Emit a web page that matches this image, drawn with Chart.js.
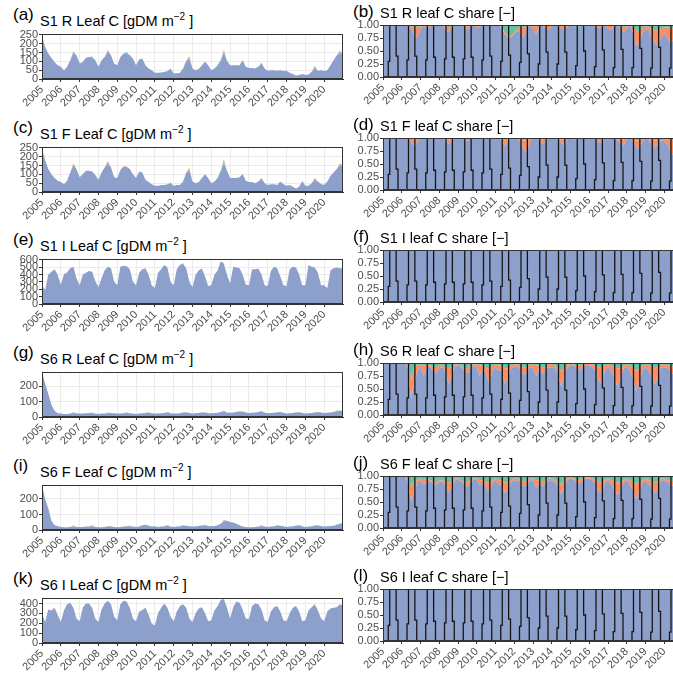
<!DOCTYPE html>
<html>
<head>
<meta charset="utf-8">
<script src="https://cdn.jsdelivr.net/npm/chart.js@4.4.1/dist/chart.umd.min.js"></script>
<style>
html, body { margin: 0; padding: 0; background: #fff; }
#fig { position: relative; width: 673px; height: 678px; overflow: hidden; font-family: "Liberation Sans", Arial, sans-serif; }
.ttl { position: absolute; font-size: 14.5px; color: #000; white-space: nowrap; line-height: 17px; }
.ttl .lab { position: absolute; font-size: 17px; }
.ttl sup { font-size: 10px; }
canvas { position: absolute; }
</style>
</head>
<body>
<div id="fig"></div>
<script>
// time axis: 6 samples per year, 2005.0 .. 2021.0
const startYear = 2005;
const perYear = 6;
const yearTicks = [2005, 2006, 2007, 2008, 2009, 2010, 2011, 2012, 2013, 2014, 2015, 2016, 2017, 2018, 2019, 2020];

// ---- leaf C [gDM m-2], blue / orange / green stacked
const aBlue = [246,181,144,121,97,78, 69,50,69,106,144,134, 88,97,121,125,121,106, 69,106,125,153,134,88,
  78,125,144,144,134,116, 78,110,116,78,60,50, 35,35,37,39,45,56, 32,32,35,60,103,110,
  60,50,56,78,97,78, 50,60,78,106,147,103, 78,78,78,78,106,69, 63,63,60,69,88,60,
  47,50,50,47,50,45, 47,35,28,20,22,28, 22,26,41,60,47,50, 45,50,78,106,134,144, 140];
const aOrange = [0,0,0,0,0,0, 0,0,0,0,8,0, 0,0,0,0,4,0, 0,0,0,8,0,0, 0,0,0,4,0,0, 0,0,0,0,0,0,
  0,0,0,0,0,0, 0,0,0,0,0,10, 0,0,0,0,3,0, 0,0,0,0,10,0, 0,0,0,0,0,0, 0,0,0,0,0,0,
  0,0,0,0,0,0, 0,0,0,0,0,0, 0,0,0,6,0,0, 0,0,0,0,0,8, 0];
const aGreen = [0,0,0,0,0,0, 0,0,0,0,5,0, 0,0,0,0,2,0, 0,0,0,5,0,0, 0,0,0,5,0,0, 0,0,0,0,0,0,
  0,0,0,0,0,4, 0,0,0,0,0,9, 0,0,0,0,0,0, 0,0,0,0,9,0, 0,0,0,0,0,0, 0,0,0,0,4,0,
  0,0,0,0,0,0, 0,0,0,0,0,0, 0,0,0,7,0,0, 0,0,0,0,0,8, 0];

const cBlue = [246,180,130,100,80,64, 56,44,64,110,150,130, 84,100,120,120,116,96, 70,110,140,160,140,84,
  80,124,144,140,130,100, 80,116,110,70,56,44, 36,36,40,40,44,50, 36,40,40,60,110,120,
  60,50,56,80,100,80, 50,60,80,120,160,120, 80,80,80,84,100,64, 56,56,50,60,76,50,
  40,44,44,40,60,44, 36,40,30,20,30,60, 36,36,50,70,60,46, 40,60,90,110,130,150, 150];
const cOrange = [0,0,0,0,0,0, 0,0,0,0,6,0, 0,0,0,0,0,0, 0,0,0,8,0,0, 0,0,0,5,0,0, 0,0,0,0,0,0,
  0,0,0,0,0,0, 0,0,0,0,0,8, 0,0,0,0,0,0, 0,0,0,0,12,0, 0,0,0,0,0,0, 0,0,0,0,4,0,
  0,0,0,0,0,0, 0,0,0,0,0,0, 0,0,0,6,0,0, 0,0,0,0,0,6, 0];
const cGreen = [0,0,0,0,0,0, 0,0,0,0,5,0, 0,0,0,0,0,0, 0,0,0,6,0,0, 0,0,0,0,0,0, 0,0,0,0,0,0,
  0,0,0,0,0,4, 0,0,0,0,0,8, 0,0,0,0,0,0, 0,0,0,0,12,0, 0,0,0,0,4,0, 0,0,0,0,0,0,
  0,0,0,0,0,0, 0,0,0,0,0,4, 0,0,0,4,0,0, 0,0,0,0,0,6, 0];

const eBlue = [254,182,398,437,470,398, 254,408,422,485,504,350, 254,398,422,446,437,312, 230,350,456,504,485,302,
  254,504,518,504,470,302, 254,422,470,485,398,254, 216,422,470,528,494,302, 254,470,533,542,485,302,
  230,398,456,480,374,245, 254,398,446,580,542,398, 278,504,494,485,398,264, 254,470,470,480,398,254,
  245,446,504,485,374,254, 245,470,504,494,398,254, 254,528,504,494,422,254, 254,206,456,485,494,485, 480];
const eOrange = [0,0,0,0,0,0, 0,0,10,0,0,0, 0,0,0,0,0,0, 0,0,0,0,0,0, 0,0,0,10,0,0, 0,0,0,0,0,0,
  0,0,0,0,0,0, 0,0,0,0,0,0, 0,0,0,0,0,0, 0,0,10,0,0,0, 0,0,0,0,0,0, 0,0,0,0,10,0,
  0,0,0,0,0,0, 0,0,0,0,10,0, 0,0,0,0,0,0, 0,15,0,0,0,0, 0];
const eGreen = [0,10,0,0,0,0, 10,0,0,0,0,0, 0,0,0,0,0,0, 0,0,0,0,0,0, 0,0,0,0,0,0, 0,0,0,0,0,0,
  0,0,0,0,0,0, 0,0,0,10,0,0, 0,0,0,0,0,0, 0,0,0,0,10,0, 0,0,0,0,0,0, 0,0,0,0,0,0,
  0,0,0,0,0,0, 0,0,0,0,0,0, 0,0,0,0,0,0, 0,0,0,0,0,0, 0];

const gBlue = [290,220,150,80,40,25, 22,20,20,22,25,24, 22,22,24,26,25,22, 20,22,22,24,26,24,
  22,22,24,26,25,22, 20,22,24,26,28,25, 22,22,24,26,28,25, 22,22,24,28,30,26,
  22,24,26,28,30,25, 24,26,28,32,35,30, 28,30,32,34,35,30, 26,28,30,32,34,30,
  24,26,28,30,32,28, 22,24,26,28,30,26, 22,24,26,28,32,30, 26,28,30,32,36,40, 42];
const gOrange = [0,0,0,0,0,0, 0,0,0,0,3,0, 0,0,0,0,0,0, 0,0,0,3,0,0, 0,0,0,0,0,0, 0,0,0,0,3,0,
  0,0,0,0,0,0, 0,0,0,3,0,0, 0,0,0,0,0,0, 0,0,0,0,3,0, 0,0,0,0,0,0, 0,0,0,0,3,0,
  0,0,0,0,0,0, 0,0,0,3,0,0, 0,0,0,0,0,0, 0,0,0,0,3,0, 0];
const gGreen = [0,0,0,0,0,0, 0,0,0,0,3,0, 0,0,0,0,4,0, 0,0,0,3,0,0, 0,0,0,3,0,0, 0,0,0,0,0,0,
  0,0,0,0,4,0, 0,0,0,0,3,0, 0,0,0,3,0,0, 0,0,0,0,4,0, 0,0,0,4,0,0, 0,0,0,0,3,0,
  0,0,0,3,0,0, 0,0,0,0,4,0, 0,0,0,3,0,0, 0,0,0,0,3,0, 0];

const iBlue = [290,200,140,60,30,25, 20,18,18,20,22,20, 20,20,22,22,24,20, 18,18,20,22,24,20,
  18,20,22,22,24,22, 20,22,30,34,26,22, 24,20,22,24,26,22, 20,22,24,26,28,24,
  22,24,26,28,30,26, 24,26,30,40,55,60, 52,48,40,30,22,20, 18,18,20,22,24,22,
  20,22,24,26,28,24, 20,22,24,26,28,24, 20,22,24,26,28,26, 22,24,26,28,32,40, 45];
const iOrange = [0,0,0,0,0,0, 0,0,0,0,3,0, 0,0,0,0,3,0, 0,0,0,0,0,0, 0,0,0,3,0,0, 0,0,0,0,0,0,
  0,0,0,0,3,0, 0,0,0,0,0,0, 0,0,0,3,0,0, 0,0,0,0,4,0, 0,0,0,0,0,0, 0,0,0,0,3,0,
  0,0,0,0,0,0, 0,0,0,3,0,0, 0,0,0,0,3,0, 0,0,0,0,0,0, 0];
const iGreen = [0,0,0,0,0,0, 0,0,0,0,4,0, 0,0,0,0,3,0, 0,0,0,4,0,0, 0,0,0,0,4,0, 0,0,0,0,3,0,
  0,0,0,0,4,0, 0,0,0,4,0,0, 0,0,0,0,4,0, 0,0,0,0,5,0, 0,0,0,0,0,0, 0,0,0,0,4,0,
  0,0,0,4,0,0, 0,0,0,0,4,0, 0,0,0,4,0,0, 0,0,0,0,3,0, 0];

const kBlue = [303,214,340,330,350,286, 214,330,393,410,357,250, 221,357,400,400,357,250, 214,340,400,428,393,268,
  232,393,428,421,357,250, 221,321,330,357,286,196, 178,303,357,400,357,268, 221,321,375,393,357,250,
  214,303,350,364,303,221, 232,330,375,436,446,357, 250,364,421,410,340,250, 243,375,400,393,340,232,
  214,321,364,375,321,232, 221,303,357,375,321,221, 232,330,364,393,330,250, 221,321,350,357,364,393, 380];
const kOrange = [0,0,0,0,10,0, 0,0,0,0,0,0, 0,0,0,0,0,0, 0,0,0,0,0,0, 0,0,0,0,0,0, 0,0,8,0,0,0,
  0,0,0,0,0,0, 0,0,0,0,0,0, 0,0,0,0,0,0, 0,0,0,0,0,0, 0,0,0,0,0,0, 0,0,0,0,0,0,
  0,0,0,0,0,0, 0,0,0,0,0,0, 0,0,0,0,0,0, 0,0,0,0,0,0, 0];
const kGreen = new Array(97).fill(0);

// ---- leaf C share [-]: orange and green fractions (blue = rest)
const bOrange = [0,0,0,0,0,0, 0,0,0,0.05,0.15,0.2, 0.05,0,0.06,0.03,0,0, 0,0,0.06,0.08,0.02,0, 0,0,0.02,0.05,0.03,0,
  0.03,0.02,0,0,0,0, 0,0,0.02,0.03,0.05,0.04, 0.03,0.02,0.1,0.2,0.05,0, 0.05,0.15,0.03,0,0.05,0.08,
  0.02,0,0,0.04,0.08,0.02, 0,0,0,0,0,0, 0,0,0.02,0.03,0.04,0, 0.05,0.08,0.02,0,0.05,0.08,
  0.05,0,0.1,0.3,0.25,0.1, 0.05,0.05,0.15,0.25,0.3,0.15, 0.1,0.2,0.3,0.2,0.1,0.1, 0.1];
const bGreen = [0,0,0,0,0,0, 0,0,0,0.03,0.05,0.04, 0.02,0,0.02,0,0,0, 0,0,0.04,0.06,0.02,0, 0,0,0.02,0.03,0.02,0,
  0.02,0.01,0,0,0,0, 0,0,0.05,0.15,0.2,0.2, 0.15,0.08,0.05,0.05,0.02,0, 0.02,0.03,0.01,0,0.02,0.02,
  0,0,0,0.02,0.03,0.01, 0,0.02,0.06,0.03,0,0, 0,0,0.02,0.02,0.02,0, 0.02,0.02,0,0,0.03,0.05,
  0.03,0,0.05,0.1,0.12,0.05, 0.02,0.05,0.08,0.1,0.1,0.08, 0.05,0.05,0.05,0.08,0.06,0.05, 0.05];

const dOrange = [0,0,0,0,0,0, 0,0,0,0.05,0.12,0.05, 0,0,0.03,0,0,0, 0,0,0.04,0.08,0.03,0, 0,0,0.02,0.04,0,0,
  0.02,0,0,0,0,0, 0,0,0.03,0.1,0.05,0, 0,0,0.05,0.15,0.25,0.05, 0,0,0.03,0.08,0.05,0,
  0,0,0.03,0.06,0.1,0.02, 0,0,0,0,0,0, 0,0,0.02,0.05,0.08,0, 0.03,0,0,0.03,0.06,0.1,
  0.03,0,0.05,0.12,0.15,0.05, 0,0.02,0.08,0.12,0.08,0.03, 0.03,0.1,0.2,0.3,0.15,0.1, 0.1];
const dGreen = [0,0,0,0,0,0, 0,0,0,0.02,0.03,0.02, 0,0,0,0,0,0, 0,0,0.02,0.03,0.02,0, 0,0,0.02,0.02,0,0,
  0,0,0,0,0,0, 0,0,0.03,0.05,0.03,0, 0,0,0.02,0.05,0.05,0.02, 0,0,0.02,0.03,0.02,0,
  0,0,0.02,0.03,0.04,0, 0,0.02,0.03,0.02,0,0, 0,0,0,0.02,0.02,0, 0,0,0,0.02,0.03,0.03,
  0,0,0.02,0.05,0.05,0.02, 0,0.02,0.04,0.05,0.04,0.02, 0.02,0.03,0.05,0.05,0.03,0.02, 0.03];

const fOrange = new Array(97).fill(0);
const fGreen = new Array(97).fill(0);

const hOrange = [0,0,0,0,0,0, 0,0,0.05,0.4,0.3,0.1, 0.05,0.2,0.05,0.02,0.05,0.1, 0.05,0.03,0.1,0.3,0.15,0.05,
  0.02,0.02,0.05,0.1,0.05,0.03, 0.05,0.2,0.05,0.1,0.3,0.1, 0.05,0.1,0.1,0.3,0.2,0.05, 0.05,0.03,0.08,0.15,0.1,0.05,
  0.05,0.2,0.05,0.1,0.05,0.05, 0.05,0.03,0.1,0.3,0.15,0.05, 0.02,0.02,0.05,0.1,0.05,0.02, 0.03,0.05,0.1,0.25,0.3,0.1,
  0.05,0.1,0.2,0.35,0.2,0.05, 0.05,0.1,0.2,0.4,0.25,0.1, 0.05,0.1,0.15,0.3,0.2,0.05, 0.05,0.05,0.1,0.15,0.1,0.05, 0.05];
const hGreen = [0,0,0,0,0,0, 0,0,0.05,0.3,0.08,0.05, 0.03,0.05,0.03,0.05,0.08,0.1, 0.05,0.05,0.08,0.1,0.08,0.03,
  0.03,0.05,0.1,0.1,0.05,0.03, 0.03,0.05,0.05,0.1,0.1,0.05, 0.03,0.05,0.05,0.1,0.1,0.05, 0.03,0.03,0.05,0.08,0.08,0.03,
  0.03,0.05,0.05,0.1,0.08,0.03, 0.03,0.05,0.1,0.15,0.1,0.03, 0.02,0.03,0.05,0.05,0.03,0.02, 0.02,0.03,0.05,0.08,0.1,0.05,
  0.03,0.05,0.08,0.1,0.1,0.05, 0.03,0.05,0.1,0.15,0.1,0.05, 0.03,0.05,0.08,0.1,0.08,0.03, 0.03,0.05,0.05,0.08,0.05,0.03, 0.03];

const jOrange = [0,0,0,0,0,0, 0,0,0.05,0.3,0.2,0.05, 0.03,0.1,0.05,0.02,0.05,0.05, 0.03,0.03,0.08,0.2,0.1,0.03,
  0.02,0.02,0.05,0.08,0.05,0.02, 0.03,0.1,0.05,0.08,0.2,0.05, 0.03,0.08,0.1,0.2,0.15,0.03, 0.03,0.03,0.05,0.1,0.08,0.03,
  0.03,0.15,0.05,0.08,0.05,0.03, 0.03,0.03,0.08,0.2,0.1,0.03, 0.02,0.02,0.03,0.08,0.03,0.02, 0.02,0.03,0.08,0.2,0.2,0.05,
  0.03,0.08,0.15,0.25,0.15,0.03, 0.03,0.08,0.15,0.3,0.2,0.05, 0.03,0.08,0.1,0.2,0.15,0.03, 0.03,0.03,0.08,0.1,0.08,0.03, 0.03];
const jGreen = [0,0,0,0,0,0, 0,0,0.08,0.2,0.1,0.08, 0.05,0.08,0.05,0.08,0.1,0.12, 0.08,0.08,0.1,0.12,0.1,0.05,
  0.05,0.08,0.12,0.12,0.08,0.05, 0.05,0.08,0.08,0.12,0.12,0.08, 0.05,0.08,0.08,0.12,0.12,0.08, 0.05,0.05,0.08,0.1,0.1,0.05,
  0.05,0.08,0.08,0.12,0.1,0.05, 0.05,0.08,0.12,0.15,0.12,0.05, 0.03,0.05,0.08,0.08,0.05,0.03, 0.03,0.05,0.08,0.1,0.12,0.08,
  0.05,0.08,0.1,0.12,0.12,0.08, 0.05,0.08,0.12,0.15,0.12,0.08, 0.05,0.08,0.1,0.12,0.1,0.05, 0.05,0.08,0.08,0.1,0.08,0.05, 0.05];

const lOrange = new Array(97).fill(0);
const lGreen = new Array(97).fill(0);

// black cohort lines in the share panels: per year, x offsets in the year and jog levels
const cutATop = 0.36, cutABot = 0.28, cutBTop = 0.70, cutBBot = 0.80;
const jogA = [0.30,0.33,0.33,0.35,0.35,0.33,0.30,0.28,0.25,0.25,0.22,0.20,0.18,0.18,0.17,0.17];
const jogB = [0.40,0.40,0.38,0.38,0.38,0.40,0.42,0.45,0.48,0.48,0.50,0.52,0.53,0.55,0.57,0.58];

const BLUE = "#8da0cb", ORANGE = "#fc8d62", GREEN = "#66c2a5";
const times = aBlue.map((_, i) => startYear + i / perYear);

Chart.defaults.font.family = '"Liberation Sans", Arial, sans-serif';

const fig = document.getElementById("fig");
const rowStep = 112.7;

function pts(vals) {
  return vals.map((v, i) => ({ x: times[i], y: v }));
}

function cohortLines() {
  const out = [];
  yearTicks.forEach((yr, k) => {
    out.push({ x: yr + cutATop, y: 1 }, { x: yr + cutATop, y: jogA[k] }, { x: yr + cutABot, y: jogA[k] }, { x: yr + cutABot, y: 0 }, { x: yr + cutABot, y: null });
    out.push({ x: yr + cutBTop, y: 1 }, { x: yr + cutBTop, y: jogB[k] }, { x: yr + cutBBot, y: jogB[k] }, { x: yr + cutBBot, y: 0 }, { x: yr + cutBBot, y: null });
  });
  return out;
}

const frame = {
  id: "frame",
  afterDraw(chart) {
    const a = chart.chartArea, ctx = chart.ctx;
    ctx.save();
    ctx.strokeStyle = "#333";
    ctx.lineWidth = 1;
    ctx.strokeRect(Math.round(a.left) + 0.5, Math.round(a.top) + 0.5, Math.round(a.right - a.left) - 1, Math.round(a.bottom - a.top) - 1);
    ctx.restore();
  }
};

function addTitle(left, top, lab, text) {
  const d = document.createElement("div");
  d.className = "ttl";
  d.style.left = left + "px";
  d.style.top = top + "px";
  d.innerHTML = '<span class="lab" style="left:0;top:-2px">' + lab + '</span><span style="position:absolute;left:' + 27 + 'px;top:0">' + text + "</span>";
  fig.appendChild(d);
}

function panel(p) {
  const padTop = 10, padRight = 2, xH = 30;
  const cv = document.createElement("canvas");
  const w = p.plotRight - p.canvasLeft + padRight;
  const h = p.plotBottom - p.plotTop + padTop + xH;
  cv.width = w; cv.height = h;
  cv.style.left = p.canvasLeft + "px";
  cv.style.top = (p.plotTop - padTop) + "px";
  cv.style.width = w + "px"; cv.style.height = h + "px";
  fig.appendChild(cv);

  const datasets = [
    { data: pts(p.blue), backgroundColor: BLUE, fill: "origin", yAxisID: "y" },
    { data: pts(p.orange), backgroundColor: ORANGE, fill: "-1", yAxisID: "y" },
    { data: pts(p.green), backgroundColor: GREEN, fill: "-1", yAxisID: "y" }
  ];
  if (p.share) {
    // lowest order is drawn last, i.e. on top of the filled areas
    datasets.push({ data: cohortLines(), borderColor: "#151515", borderWidth: 1.3, fill: false, yAxisID: "yb", spanGaps: false, order: -1 });
  }

  new Chart(cv, {
    type: "line",
    data: { datasets },
    options: {
      responsive: false,
      animation: false,
      events: [],
      layout: { padding: { top: padTop, right: padRight, left: 0, bottom: 0 } },
      plugins: { legend: { display: false }, tooltip: { enabled: false } },
      elements: { point: { radius: 0 }, line: { borderWidth: 0, tension: 0 } },
      scales: {
        x: {
          type: "linear", min: 2005, max: 2021,
          afterBuildTicks: a => { a.ticks = yearTicks.map(v => ({ value: v })); },
          afterFit: a => { a.height = xH; },
          ticks: { minRotation: 45, maxRotation: 45, autoSkip: false, padding: 1, color: "#4d4d4d", font: { size: 11 }, callback: v => String(v) },
          grid: { color: "#ebebeb", tickColor: "#333", tickLength: 3 },
          border: { color: "#333" }
        },
        y: {
          stacked: true, min: 0, max: p.ymax,
          afterBuildTicks: a => { a.ticks = p.yticks.map(v => ({ value: v })); },
          afterFit: a => { a.width = p.plotLeft - p.canvasLeft; },
          ticks: { autoSkip: false, padding: 1, color: "#4d4d4d", font: { size: 11 }, callback: v => p.share ? v.toFixed(2) : String(v) },
          grid: { color: "#ebebeb", tickColor: "#333", tickLength: 3 },
          border: { color: "#333" }
        },
        yb: { display: false, min: 0, max: 1, stacked: false }
      }
    },
    plugins: [frame]
  });
}

const leftPanels = [
  { lab: "(a)", name: "S1 R Leaf C", blue: aBlue, orange: aOrange, green: aGreen, ymax: 255, yticks: [0, 50, 100, 150, 200, 250] },
  { lab: "(c)", name: "S1 F Leaf C", blue: cBlue, orange: cOrange, green: cGreen, ymax: 255, yticks: [0, 50, 100, 150, 200, 250] },
  { lab: "(e)", name: "S1 I Leaf C", blue: eBlue, orange: eOrange, green: eGreen, ymax: 610, yticks: [0, 100, 200, 300, 400, 500, 600] },
  { lab: "(g)", name: "S6 R Leaf C", blue: gBlue, orange: gOrange, green: gGreen, ymax: 293, yticks: [0, 100, 200] },
  { lab: "(i)", name: "S6 F Leaf C", blue: iBlue, orange: iOrange, green: iGreen, ymax: 290, yticks: [0, 100, 200] },
  { lab: "(k)", name: "S6 I Leaf C", blue: kBlue, orange: kOrange, green: kGreen, ymax: 457, yticks: [0, 100, 200, 300, 400] }
];
const rightPanels = [
  { lab: "(b)", name: "S1 R leaf C share [\u2212]", orange: bOrange, green: bGreen },
  { lab: "(d)", name: "S1 F leaf C share [\u2212]", orange: dOrange, green: dGreen },
  { lab: "(f)", name: "S1 I leaf C share [\u2212]", orange: fOrange, green: fGreen },
  { lab: "(h)", name: "S6 R leaf C share [\u2212]", orange: hOrange, green: hGreen },
  { lab: "(j)", name: "S6 F leaf C share [\u2212]", orange: jOrange, green: jGreen },
  { lab: "(l)", name: "S6 I leaf C share [\u2212]", orange: lOrange, green: lGreen }
];

leftPanels.forEach((q, r) => {
  const off = Math.round(r * rowStep);
  addTitle(13, 8 + off, q.lab, q.name + " [gDM m<sup>\u22122</sup> ]");
  panel({
    canvasLeft: 0, plotLeft: 42, plotRight: 343, plotTop: 34 + off, plotBottom: 79 + off,
    blue: q.blue, orange: q.orange, green: q.green, ymax: q.ymax, yticks: q.yticks, share: false
  });
});

rightPanels.forEach((q, r) => {
  const off = Math.round(r * rowStep);
  const blue = q.orange.map((o, i) => 1 - o - q.green[i]);
  addTitle(353, 5 + off, q.lab, q.name);
  panel({
    canvasLeft: 340, plotLeft: 383, plotRight: 683, plotTop: 25 + off, plotBottom: 77 + off,
    blue, orange: q.orange, green: q.green, ymax: 1, yticks: [0, 0.25, 0.5, 0.75, 1], share: true
  });
});
</script>
</body>
</html>
